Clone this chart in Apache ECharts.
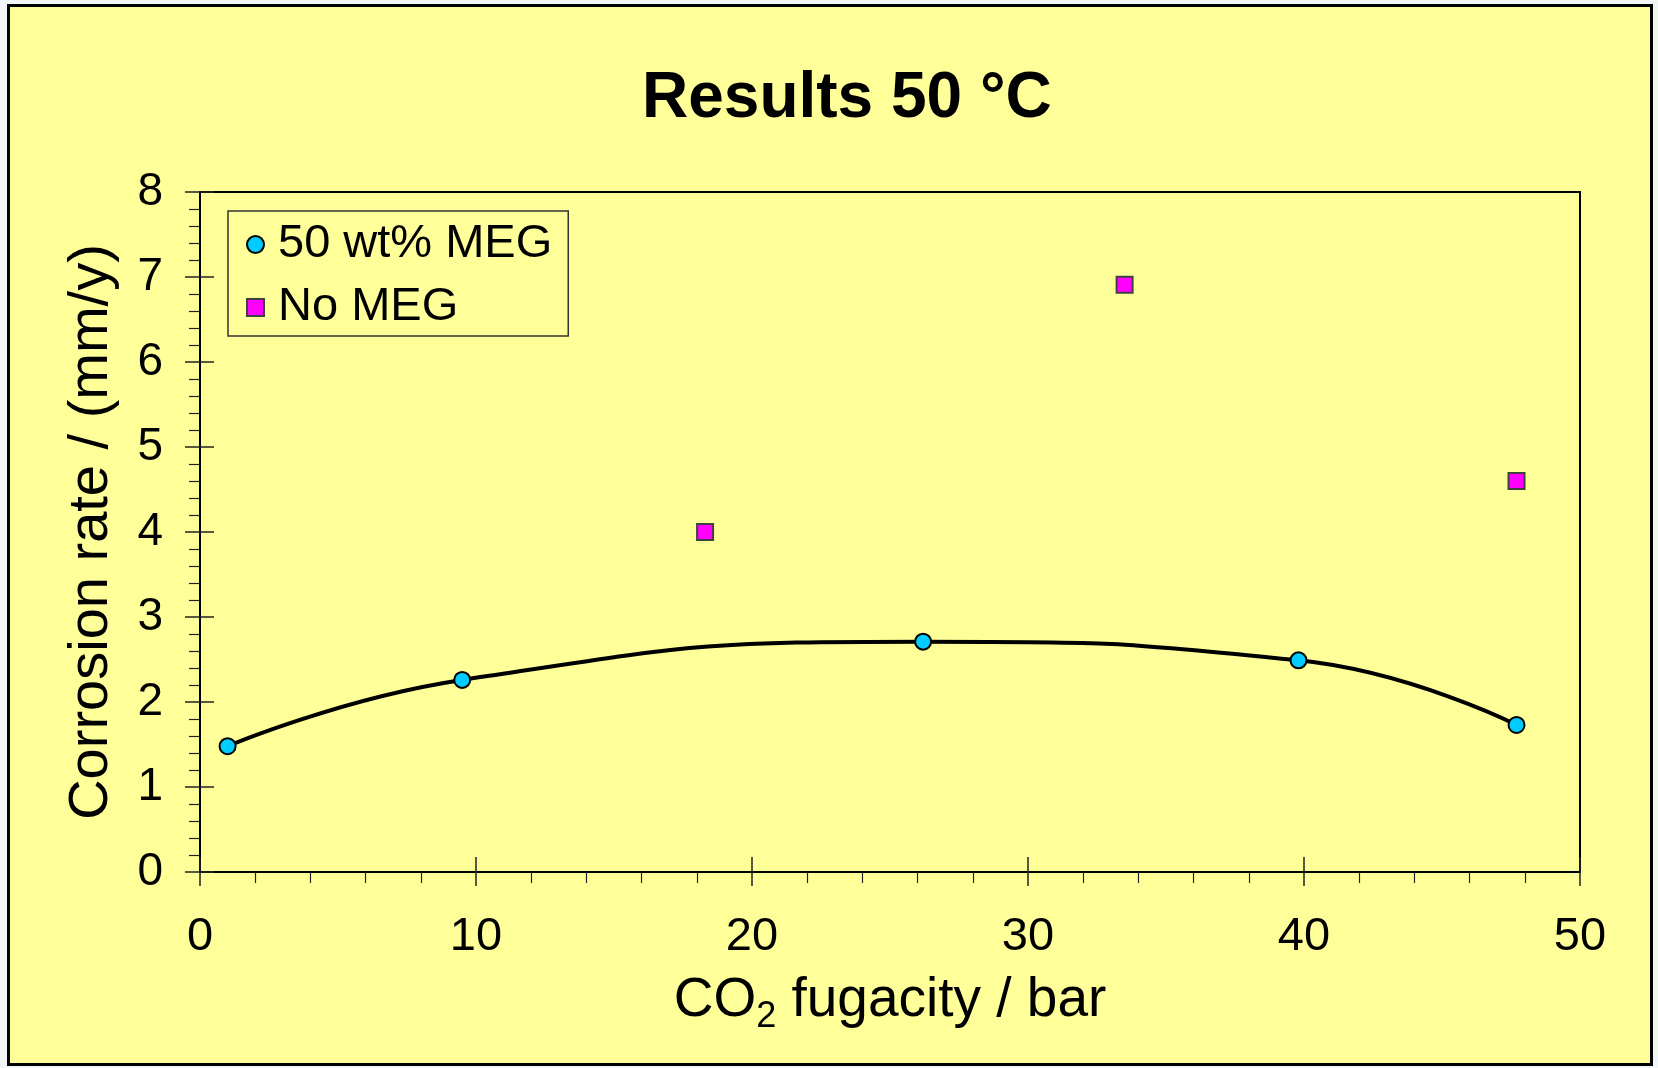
<!DOCTYPE html>
<html>
<head>
<meta charset="utf-8">
<title>Results 50 °C</title>
<script src="https://cdn.jsdelivr.net/npm/echarts@6/dist/echarts.min.js"></script>
<style>
  html, body { margin: 0; padding: 0; background: #f3f6f9; }
  #chart { width: 1658px; height: 1068px; }
</style>
</head>
<body>
<div id="chart"></div>
<script>
// CO2 fugacity (bar) and corrosion rate (mm/y)
var megFugacity = [1.0, 9.5, 26.2, 39.8, 47.7];
var megRate = [1.48, 2.26, 2.71, 2.49, 1.73];
var noMegFugacity = [18.3, 33.5, 47.7];
var noMegRate = [4.0, 6.91, 4.6];

var xTicks = [0, 10, 20, 30, 40, 50];
var yTicks = [0, 1, 2, 3, 4, 5, 6, 7, 8];

var seriesNames = ['50 wt% MEG', 'No MEG'];
var titleText = 'Results 50 °C';

function pairs(xs, ys) {
  return xs.map(function (x, i) { return [x, ys[i]]; });
}

var FONT = '"Liberation Sans", Arial, Helvetica, sans-serif';
var BG = '#FFFF99';

var chart = echarts.init(document.getElementById('chart'), null, { renderer: 'canvas' });

var xMin = xTicks[0], xMax = xTicks[xTicks.length - 1], xStep = xTicks[1] - xTicks[0];
var yMin = yTicks[0], yMax = yTicks[yTicks.length - 1], yStep = yTicks[1] - yTicks[0];

var option = {
  animation: false,
  backgroundColor: '#f3f6f9',
  graphic: [
    {
      type: 'rect',
      z: -10,
      silent: true,
      shape: { x: 8.5, y: 5.5, width: 1643, height: 1059 },
      style: { fill: BG, stroke: '#000', lineWidth: 3 }
    }
  ],
  title: {
    text: titleText,
    left: 642,
    top: 67,
    padding: 0,
    textStyle: {
      fontFamily: FONT,
      fontSize: 64,
      lineHeight: 64,
      fontWeight: 'bold',
      color: '#000'
    }
  },
  legend: {
    data: seriesNames,
    orient: 'vertical',
    left: 228,
    top: 211,
    padding: [10, 16, 5, 18],
    itemGap: 16,
    itemWidth: 17,
    itemHeight: 17,
    borderColor: '#333',
    borderWidth: 1.5,
    backgroundColor: 'transparent',
    selectedMode: false,
    textStyle: {
      fontFamily: FONT,
      fontSize: 47,
      lineHeight: 47,
      color: '#000',
      padding: [0, 0, 0, 9]
    }
  },
  grid: {
    left: 200,
    right: 78,
    top: 192,
    bottom: 196,
    show: true,
    borderColor: '#000',
    borderWidth: 2,
    backgroundColor: 'transparent',
    containLabel: false,
    outerBoundsMode: 'none'
  },
  xAxis: [
    {
      type: 'value',
      position: 'bottom',
      min: xMin,
      max: xMax,
      interval: xStep,
      name: '{m|CO}{s|2}{m| fugacity / bar}',
      nameLocation: 'middle',
      nameGap: 97,
      nameTextStyle: {
        rich: {
          m: { fontFamily: FONT, fontSize: 55, lineHeight: 55, color: '#000' },
          s: { fontFamily: FONT, fontSize: 36, lineHeight: 55, color: '#000', padding: [33, 0, 0, 0] }
        }
      },
      axisLine: { show: true, onZero: false, lineStyle: { color: '#000', width: 2 } },
      axisTick: { show: true, inside: false, length: 14, lineStyle: { color: '#222', width: 1.5 } },
      minorTick: { show: true, splitNumber: 5, length: 11, lineStyle: { color: '#222', width: 1.2 } },
      axisLabel: {
        show: true,
        margin: 42,
        fontFamily: FONT,
        fontSize: 47,
        color: '#000',
        formatter: function (v) { return String(v); }
      },
      splitLine: { show: false }
    },
    {
      // inward half of the major x ticks
      type: 'value',
      position: 'bottom',
      min: xMin,
      max: xMax,
      interval: xStep,
      axisLine: { show: false },
      axisTick: { show: true, inside: true, length: 15, lineStyle: { color: '#222', width: 1.5 } },
      axisLabel: { show: false },
      splitLine: { show: false }
    }
  ],
  yAxis: [
    {
      type: 'value',
      position: 'left',
      min: yMin,
      max: yMax,
      interval: yStep,
      name: 'Corrosion rate / (mm/y)',
      nameLocation: 'middle',
      nameGap: 80,
      nameTextStyle: { fontFamily: FONT, fontSize: 56, lineHeight: 56, color: '#000' },
      axisLine: { show: true, onZero: false, lineStyle: { color: '#000', width: 2 } },
      axisTick: { show: true, inside: false, length: 15, lineStyle: { color: '#222', width: 1.5 } },
      minorTick: { show: true, splitNumber: 5, length: 11, lineStyle: { color: '#222', width: 1.2 } },
      axisLabel: {
        show: true,
        margin: 37,
        fontFamily: FONT,
        fontSize: 46,
        color: '#000'
      },
      splitLine: { show: false }
    },
    {
      // inward half of the major y ticks
      type: 'value',
      position: 'left',
      min: yMin,
      max: yMax,
      interval: yStep,
      axisLine: { show: false },
      axisTick: { show: true, inside: true, length: 14, lineStyle: { color: '#222', width: 1.5 } },
      axisLabel: { show: false },
      splitLine: { show: false }
    }
  ],
  series: [
    {
      // trend curve through the 50 wt% MEG results
      name: 'trend',
      type: 'line',
      xAxisIndex: 0,
      yAxisIndex: 0,
      data: pairs(megFugacity, megRate),
      smooth: 0.5,
      symbol: 'none',
      silent: true,
      z: 1,
      lineStyle: { color: '#000', width: 4 }
    },
    {
      name: seriesNames[0],
      type: 'scatter',
      xAxisIndex: 0,
      yAxisIndex: 0,
      data: pairs(megFugacity, megRate),
      symbol: 'circle',
      symbolSize: 16,
      z: 3,
      itemStyle: { color: '#00CCFF', borderColor: '#000', borderWidth: 2, opacity: 1 }
    },
    {
      name: seriesNames[1],
      type: 'scatter',
      xAxisIndex: 0,
      yAxisIndex: 0,
      data: pairs(noMegFugacity, noMegRate),
      symbol: 'rect',
      symbolSize: 16,
      z: 3,
      itemStyle: { color: '#FF00FF', borderColor: '#404040', borderWidth: 2, opacity: 1 }
    }
  ]
};

chart.setOption(option);
</script>
</body>
</html>
